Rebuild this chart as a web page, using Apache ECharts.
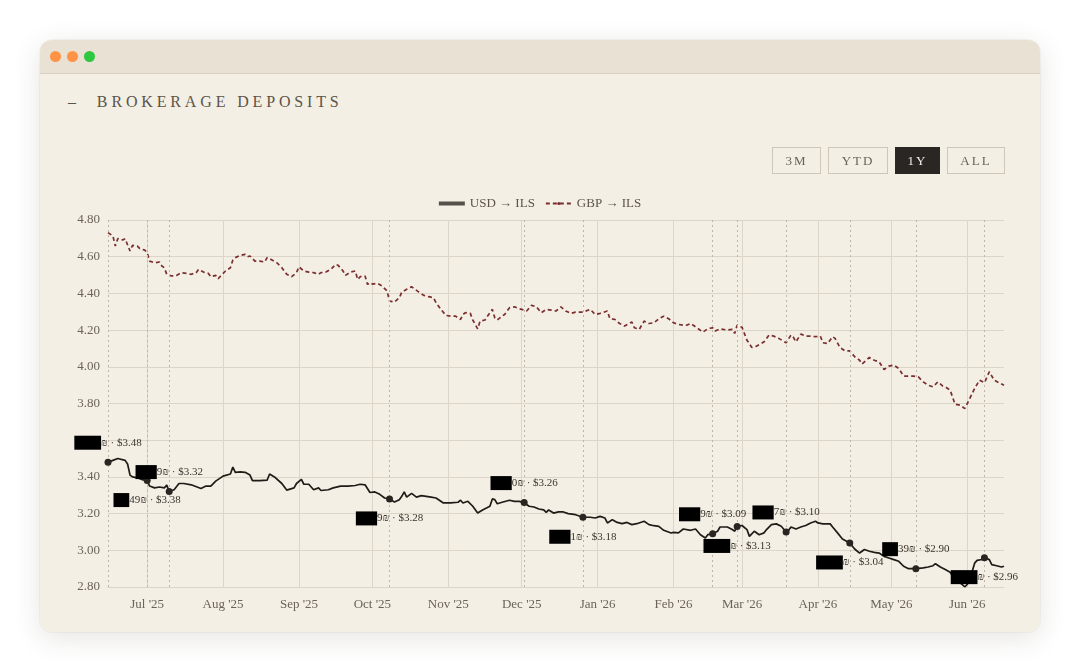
<!DOCTYPE html>
<html>
<head>
<meta charset="utf-8">
<script src="https://cdn.jsdelivr.net/npm/echarts@6/dist/echarts.min.js"></script>
<style>
  body { margin: 0; background: #ffffff; width: 1080px; height: 672px; overflow: hidden; font-family: 'Liberation Serif', 'DejaVu Serif', serif; }
  #card { position: absolute; left: 40px; top: 40px; width: 1000px; height: 592px; border-radius: 12px; overflow: hidden;
          background: #f3efe5; box-shadow: 0 6px 28px rgba(60, 50, 30, 0.13), 0 0 0 1px rgba(0, 0, 0, 0.03); }
  #bar { height: 33px; background: #e9e2d4; border-bottom: 1px solid #d8d0c1; position: relative; }
  .dot { position: absolute; top: 11px; width: 11px; height: 11px; border-radius: 50%; }
  #title { position: absolute; left: 28px; top: 53px; color: #5c544a; font-size: 16px; letter-spacing: 3.85px; }
  #title .dash { margin-right: 17px; }
  #ranges { position: absolute; right: 35px; top: 107px; display: flex; gap: 7px; z-index: 2; }
  #ranges div { height: 25px; line-height: 26px; border: 1px solid #cdc6b9; color: #6a6258; font-size: 13px;
                letter-spacing: 2px; text-align: center; box-sizing: content-box; }
  #ranges div.on { background: #2a2623; border-color: #2a2623; color: #f3efe5; }
  #chart { position: absolute; left: 0; top: 0; width: 1080px; height: 672px; }
</style>
</head>
<body>
<div id="card">
  <div id="bar">
    <div class="dot" style="left:10px;background:#fe9346"></div>
    <div class="dot" style="left:27px;background:#fe9346"></div>
    <div class="dot" style="left:44px;background:#2dc840"></div>
  </div>
  <div id="title"><span class="dash">–</span>BROKERAGE DEPOSITS</div>
  <div id="ranges">
    <div style="width:47px">3M</div>
    <div style="width:58px">YTD</div>
    <div class="on" style="width:43px">1Y</div>
    <div style="width:56px">ALL</div>
  </div>
</div>
<div id="chart"></div>
<script>
// USD -> ILS rate, [date, value]
const usd = [
  ['2025-06-15', 3.48], ['2025-06-17', 3.49], ['2025-06-19', 3.50], ['2025-06-22', 3.49], ['2025-06-23', 3.47],
  ['2025-06-24', 3.41], ['2025-06-25', 3.40], ['2025-06-27', 3.395], ['2025-06-29', 3.385],
  ['2025-07-01', 3.38], ['2025-07-02', 3.35], ['2025-07-04', 3.34], ['2025-07-06', 3.345], ['2025-07-08', 3.34],
  ['2025-07-09', 3.355], ['2025-07-10', 3.32], ['2025-07-12', 3.33], ['2025-07-14', 3.364], ['2025-07-16', 3.364],
  ['2025-07-19', 3.357], ['2025-07-23', 3.337], ['2025-07-25', 3.35], ['2025-07-27', 3.35], ['2025-07-29', 3.377],
  ['2025-08-01', 3.404], ['2025-08-04', 3.416], ['2025-08-05', 3.454], ['2025-08-06', 3.425], ['2025-08-08', 3.427],
  ['2025-08-10', 3.425], ['2025-08-12', 3.41], ['2025-08-13', 3.38], ['2025-08-16', 3.38], ['2025-08-19', 3.382],
  ['2025-08-20', 3.416], ['2025-08-22', 3.40], ['2025-08-25', 3.364], ['2025-08-27', 3.328], ['2025-08-30', 3.34],
  ['2025-08-31', 3.364], ['2025-09-02', 3.386], ['2025-09-03', 3.36], ['2025-09-05', 3.36], ['2025-09-07', 3.33],
  ['2025-09-09', 3.34], ['2025-09-10', 3.326], ['2025-09-13', 3.33], ['2025-09-15', 3.34], ['2025-09-18', 3.35],
  ['2025-09-21', 3.35], ['2025-09-24', 3.353], ['2025-09-26', 3.36], ['2025-09-28', 3.357], ['2025-09-30', 3.315],
  ['2025-10-02', 3.318], ['2025-10-04', 3.305], ['2025-10-06', 3.285], ['2025-10-08', 3.28], ['2025-10-10', 3.263],
  ['2025-10-12', 3.276], ['2025-10-13', 3.294], ['2025-10-14', 3.318], ['2025-10-15', 3.29], ['2025-10-17', 3.31],
  ['2025-10-19', 3.29], ['2025-10-21', 3.298], ['2025-10-25', 3.29], ['2025-10-27', 3.285], ['2025-10-30', 3.258],
  ['2025-11-02', 3.258], ['2025-11-05', 3.262], ['2025-11-06', 3.273], ['2025-11-07', 3.258], ['2025-11-09', 3.267],
  ['2025-11-11', 3.24], ['2025-11-13', 3.203], ['2025-11-15', 3.22], ['2025-11-18', 3.24], ['2025-11-19', 3.28],
  ['2025-11-20', 3.276], ['2025-11-21', 3.254], ['2025-11-23', 3.262], ['2025-11-26', 3.273], ['2025-11-28', 3.267],
  ['2025-11-30', 3.267], ['2025-12-02', 3.26], ['2025-12-04', 3.24], ['2025-12-06', 3.236], ['2025-12-08', 3.225],
  ['2025-12-10', 3.22], ['2025-12-11', 3.207], ['2025-12-12', 3.22], ['2025-12-14', 3.203], ['2025-12-16', 3.209],
  ['2025-12-18', 3.209], ['2025-12-20', 3.20], ['2025-12-23', 3.194], ['2025-12-26', 3.18], ['2025-12-29', 3.18],
  ['2025-12-31', 3.176], ['2026-01-02', 3.185], ['2026-01-04', 3.176], ['2026-01-05', 3.149], ['2026-01-07', 3.167],
  ['2026-01-09', 3.152], ['2026-01-11', 3.145], ['2026-01-13', 3.152], ['2026-01-15', 3.14], ['2026-01-17', 3.145],
  ['2026-01-20', 3.158], ['2026-01-22', 3.14], ['2026-01-24', 3.134], ['2026-01-26', 3.13], ['2026-01-28', 3.109],
  ['2026-01-31', 3.094], ['2026-02-01', 3.098], ['2026-02-03', 3.095], ['2026-02-05', 3.116], ['2026-02-08', 3.109],
  ['2026-02-10', 3.116], ['2026-02-12', 3.085], ['2026-02-14', 3.067], ['2026-02-15', 3.085], ['2026-02-17', 3.09],
  ['2026-02-19', 3.104], ['2026-02-20', 3.127], ['2026-02-23', 3.127], ['2026-02-25', 3.113], ['2026-02-26', 3.104],
  ['2026-02-27', 3.13], ['2026-03-01', 3.135], ['2026-03-03', 3.113], ['2026-03-04', 3.076], ['2026-03-06', 3.104],
  ['2026-03-08', 3.085], ['2026-03-10', 3.095], ['2026-03-11', 3.113], ['2026-03-13', 3.14], ['2026-03-15', 3.144],
  ['2026-03-17', 3.131], ['2026-03-19', 3.10], ['2026-03-20', 3.109], ['2026-03-21', 3.127], ['2026-03-23', 3.116],
  ['2026-03-25', 3.127], ['2026-03-27', 3.135], ['2026-03-29', 3.149], ['2026-03-31', 3.158], ['2026-04-01', 3.149],
  ['2026-04-03', 3.144], ['2026-04-06', 3.144], ['2026-04-07', 3.127], ['2026-04-09', 3.095], ['2026-04-11', 3.062],
  ['2026-04-14', 3.04], ['2026-04-16', 3.007], ['2026-04-18', 2.985], ['2026-04-20', 3.004], ['2026-04-22', 2.995],
  ['2026-04-24', 2.989], ['2026-04-26', 2.985], ['2026-04-28', 2.967], ['2026-04-30', 2.958], ['2026-05-02', 2.949],
  ['2026-05-04', 2.94], ['2026-05-06', 2.913], ['2026-05-08', 2.90], ['2026-05-11', 2.90], ['2026-05-14', 2.904],
  ['2026-05-16', 2.909], ['2026-05-18', 2.916], ['2026-05-19', 2.927], ['2026-05-21', 2.909], ['2026-05-23', 2.895],
  ['2026-05-25', 2.88], ['2026-05-27', 2.84], ['2026-05-30', 2.813], ['2026-05-31', 2.80], ['2026-06-02', 2.83],
  ['2026-06-03', 2.885], ['2026-06-04', 2.93], ['2026-06-05', 2.945], ['2026-06-07', 2.95], ['2026-06-08', 2.96],
  ['2026-06-10', 2.949], ['2026-06-11', 2.922], ['2026-06-13', 2.916], ['2026-06-15', 2.909], ['2026-06-16', 2.913]
];

// GBP -> ILS rate, [date, value]
const gbp = [
  ['2025-06-15', 4.731], ['2025-06-17', 4.713], ['2025-06-18', 4.658], ['2025-06-19', 4.698], ['2025-06-20', 4.698],
  ['2025-06-21', 4.691], ['2025-06-22', 4.698], ['2025-06-24', 4.631], ['2025-06-25', 4.662], ['2025-06-27', 4.658],
  ['2025-06-28', 4.644], ['2025-06-30', 4.636], ['2025-07-01', 4.622], ['2025-07-02', 4.576], ['2025-07-04', 4.567],
  ['2025-07-06', 4.571], ['2025-07-07', 4.549], ['2025-07-08', 4.54], ['2025-07-09', 4.504], ['2025-07-11', 4.495],
  ['2025-07-13', 4.498], ['2025-07-15', 4.513], ['2025-07-17', 4.509], ['2025-07-19', 4.504], ['2025-07-21', 4.513],
  ['2025-07-22', 4.531], ['2025-07-24', 4.516], ['2025-07-26', 4.509], ['2025-07-27', 4.491], ['2025-07-29', 4.498],
  ['2025-07-30', 4.48], ['2025-07-31', 4.495], ['2025-08-02', 4.522], ['2025-08-04', 4.54], ['2025-08-05', 4.582],
  ['2025-08-06', 4.595], ['2025-08-08', 4.607], ['2025-08-10', 4.613], ['2025-08-11', 4.60], ['2025-08-12', 4.604],
  ['2025-08-14', 4.576], ['2025-08-16', 4.576], ['2025-08-18', 4.571], ['2025-08-19', 4.595], ['2025-08-21', 4.582],
  ['2025-08-23', 4.567], ['2025-08-25', 4.54], ['2025-08-27', 4.504], ['2025-08-29', 4.491], ['2025-08-31', 4.513],
  ['2025-09-01', 4.545], ['2025-09-03', 4.522], ['2025-09-05', 4.516], ['2025-09-07', 4.513], ['2025-09-09', 4.504],
  ['2025-09-10', 4.513], ['2025-09-12', 4.516], ['2025-09-14', 4.531], ['2025-09-16', 4.558], ['2025-09-17', 4.553],
  ['2025-09-19', 4.522], ['2025-09-20', 4.498], ['2025-09-22', 4.516], ['2025-09-24', 4.522], ['2025-09-25', 4.476],
  ['2025-09-26', 4.491], ['2025-09-28', 4.495], ['2025-09-29', 4.449], ['2025-09-30', 4.458], ['2025-10-01', 4.451],
  ['2025-10-03', 4.455], ['2025-10-05', 4.44], ['2025-10-07', 4.413], ['2025-10-08', 4.358], ['2025-10-10', 4.353],
  ['2025-10-12', 4.376], ['2025-10-13', 4.407], ['2025-10-15', 4.422], ['2025-10-17', 4.436], ['2025-10-20', 4.407],
  ['2025-10-22', 4.389], ['2025-10-24', 4.382], ['2025-10-26', 4.376], ['2025-10-27', 4.349], ['2025-10-29', 4.313],
  ['2025-10-31', 4.28], ['2025-11-02', 4.276], ['2025-11-04', 4.276], ['2025-11-06', 4.258], ['2025-11-07', 4.285],
  ['2025-11-08', 4.295], ['2025-11-10', 4.291], ['2025-11-11', 4.255], ['2025-11-13', 4.207], ['2025-11-14', 4.249],
  ['2025-11-16', 4.255], ['2025-11-17', 4.276], ['2025-11-19', 4.313], ['2025-11-20', 4.267], ['2025-11-21', 4.255],
  ['2025-11-23', 4.276], ['2025-11-24', 4.285], ['2025-11-26', 4.322], ['2025-11-28', 4.327], ['2025-11-30', 4.316],
  ['2025-12-01', 4.313], ['2025-12-03', 4.304], ['2025-12-05', 4.335], ['2025-12-07', 4.327], ['2025-12-09', 4.295],
  ['2025-12-11', 4.313], ['2025-12-13', 4.309], ['2025-12-15', 4.304], ['2025-12-17', 4.327], ['2025-12-19', 4.304],
  ['2025-12-21', 4.291], ['2025-12-23', 4.298], ['2025-12-26', 4.298], ['2025-12-29', 4.313], ['2025-12-31', 4.285],
  ['2026-01-02', 4.291], ['2026-01-05', 4.304], ['2026-01-06', 4.262], ['2026-01-08', 4.258], ['2026-01-10', 4.236],
  ['2026-01-12', 4.222], ['2026-01-15', 4.244], ['2026-01-16', 4.213], ['2026-01-18', 4.204], ['2026-01-20', 4.249],
  ['2026-01-22', 4.236], ['2026-01-24', 4.24], ['2026-01-26', 4.262], ['2026-01-28', 4.276], ['2026-01-30', 4.262],
  ['2026-02-01', 4.24], ['2026-02-03', 4.231], ['2026-02-06', 4.225], ['2026-02-08', 4.236], ['2026-02-10', 4.218],
  ['2026-02-13', 4.189], ['2026-02-15', 4.207], ['2026-02-17', 4.213], ['2026-02-18', 4.195], ['2026-02-20', 4.207],
  ['2026-02-23', 4.20], ['2026-02-25', 4.204], ['2026-02-26', 4.182], ['2026-02-27', 4.227], ['2026-03-01', 4.215],
  ['2026-03-03', 4.145], ['2026-03-05', 4.105], ['2026-03-07', 4.113], ['2026-03-10', 4.136], ['2026-03-12', 4.173],
  ['2026-03-14', 4.167], ['2026-03-16', 4.155], ['2026-03-19', 4.131], ['2026-03-21', 4.173], ['2026-03-22', 4.16],
  ['2026-03-23', 4.136], ['2026-03-25', 4.178], ['2026-03-27', 4.167], ['2026-03-29', 4.167], ['2026-03-31', 4.164],
  ['2026-04-02', 4.167], ['2026-04-03', 4.131], ['2026-04-05', 4.127], ['2026-04-07', 4.164], ['2026-04-08', 4.155],
  ['2026-04-10', 4.105], ['2026-04-12', 4.087], ['2026-04-14', 4.087], ['2026-04-16', 4.055], ['2026-04-18', 4.036],
  ['2026-04-19', 4.015], ['2026-04-22', 4.051], ['2026-04-24', 4.036], ['2026-04-26', 4.027], ['2026-04-28', 3.985],
  ['2026-04-30', 4.004], ['2026-05-02', 4.009], ['2026-05-04', 3.991], ['2026-05-06', 3.949], ['2026-05-08', 3.949],
  ['2026-05-10', 3.949], ['2026-05-12', 3.945], ['2026-05-14', 3.918], ['2026-05-16', 3.90], ['2026-05-18', 3.891],
  ['2026-05-20', 3.918], ['2026-05-22', 3.895], ['2026-05-23', 3.891], ['2026-05-25', 3.873], ['2026-05-27', 3.796],
  ['2026-05-29', 3.791], ['2026-05-31', 3.773], ['2026-06-02', 3.827], ['2026-06-04', 3.882], ['2026-06-06', 3.927],
  ['2026-06-08', 3.913], ['2026-06-10', 3.973], ['2026-06-12', 3.927], ['2026-06-14', 3.913], ['2026-06-16', 3.90]
];

// deposits: date, USD rate at deposit, shekel amount (partly redacted in the picture)
const depositDates = ['2025-06-15', '2025-07-01', '2025-07-10', '2025-10-08', '2025-12-02', '2025-12-26',
                      '2026-02-17', '2026-02-27', '2026-03-19', '2026-04-14', '2026-05-11', '2026-06-08'];
const depositRates = [3.48, 3.38, 3.32, 3.28, 3.26, 3.18, 3.09, 3.13, 3.10, 3.04, 2.90, 2.96];
const depositIls = ['4,816', '5,449', '2,219', '1,759', '3,520', '1,271', '2,619', '1,564', '3,107', '6,318', '1,339', '2,452'];
const depositShownDigits = [0, 2, 1, 1, 1, 1, 1, 0, 1, 0, 2, 0];

const yTicks = { min: 2.8, max: 4.8, step: 0.2 };
const xRange = ['2025-06-15', '2026-06-16'];
const monthNames = ['Jan', 'Feb', 'Mar', 'Apr', 'May', 'Jun', 'Jul', 'Aug', 'Sep', 'Oct', 'Nov', 'Dec'];

const serif = "'Liberation Serif', 'DejaVu Serif', serif";
const grid = '#ddd6c8';
const axisText = '#6b6358';

const chart = echarts.init(document.getElementById('chart'), null, { renderer: 'canvas' });

const depositPoints = depositDates.map((d, i) => {
  const amt = depositIls[i];
  const cut = amt.length - depositShownDigits[i];
  return {
    value: [d, depositRates[i]],
    label: {
      position: i % 2 === 0 ? 'top' : 'bottom',
      formatter: '{r|' + amt.slice(0, cut) + '}{t|' + amt.slice(cut) + '₪ · $' + depositRates[i].toFixed(2) + '}'
    }
  };
});

chart.setOption({
  animation: false,
  textStyle: { fontFamily: serif },
  legend: {
    top: 192,
    left: 'center',
    itemWidth: 26,
    itemHeight: 4,
    itemGap: 10,
    textStyle: { color: '#5c544a', fontSize: 13, fontFamily: serif },
    data: [
      { name: 'USD → ILS', icon: 'rect', itemStyle: { color: '#55504a' } },
      { name: 'GBP → ILS' }
    ]
  },
  grid: { left: 108, right: 76, top: 220, bottom: 85 },
  xAxis: {
    type: 'time',
    min: xRange[0],
    max: xRange[1],
    splitNumber: 12,
    maxInterval: 31 * 86400000,
    axisLine: { show: true, lineStyle: { color: grid } },
    axisTick: { show: false },
    splitLine: { show: true, showMinLine: false, showMaxLine: false, lineStyle: { color: grid, width: 1 } },
    axisLabel: {
      color: axisText,
      fontSize: 13,
      margin: 11,
      fontFamily: serif,
      hideOverlap: false,
      formatter: (v) => {
        const d = new Date(v);
        if (d.getDate() !== 1) return '';
        return monthNames[d.getMonth()] + " '" + String(d.getFullYear()).slice(2);
      }
    }
  },
  yAxis: {
    type: 'value',
    min: yTicks.min,
    max: yTicks.max,
    interval: yTicks.step,
    axisLine: { show: false },
    axisTick: { show: false },
    splitLine: { lineStyle: { color: grid, width: 1 } },
    axisLabel: { color: axisText, fontSize: 13, margin: 8, fontFamily: serif, formatter: (v) => v.toFixed(2) }
  },
  series: [
    {
      name: 'USD → ILS',
      type: 'line',
      data: usd,
      showSymbol: false,
      symbol: 'none',
      lineStyle: { color: '#1f1b17', width: 1.7 },
      itemStyle: { color: '#1f1b17' },
      z: 3
    },
    {
      name: 'GBP → ILS',
      type: 'line',
      data: gbp,
      showSymbol: false,
      symbol: 'none',
      lineStyle: { color: '#7a2e2e', width: 1.7, type: [4, 3] },
      itemStyle: { color: '#7a2e2e' },
      z: 3
    },
    {
      name: 'deposits',
      type: 'scatter',
      data: depositPoints,
      symbolSize: 7,
      itemStyle: { color: '#2a2521', opacity: 1 },
      z: 5,
      label: {
        show: true,
        distance: 9,
        opacity: 1,
        fontFamily: serif,
        textBorderWidth: 0,
        rich: {
          r: { backgroundColor: '#000000', color: 'rgba(0,0,0,0)', fontSize: 11, padding: [2, 1, 1, 1], fontFamily: serif, textBorderWidth: 0 },
          t: { color: '#3b352f', fontSize: 11, fontFamily: serif, textBorderWidth: 0 }
        }
      },
      emphasis: { disabled: true },
      markLine: {
        silent: true,
        symbol: ['none', 'none'],
        label: { show: false },
        lineStyle: { color: '#bdb5a7', width: 1, type: [2, 3] },
        data: depositDates.map((d) => ({ xAxis: d }))
      }
    }
  ]
});
window.addEventListener('resize', () => chart.resize());
</script>
</body>
</html>
